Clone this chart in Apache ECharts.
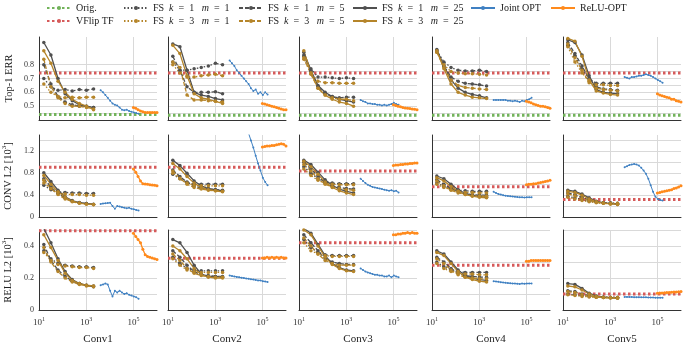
<!DOCTYPE html>
<html>
<head>
<meta charset="utf-8">
<script src="https://cdn.jsdelivr.net/npm/echarts@6/dist/echarts.min.js"></script>
<style>
html, body { margin: 0; padding: 0; background: #fff; }
#chart { width: 685px; height: 346px; }
</style>
</head>
<body>
<div id="chart"></div>
<script>
// x positions (shared by every panel)
const fsX = [16, 32, 64, 128, 256, 512, 1024, 2048];
const jointX = [4096, 5161, 6502, 8192, 10321, 13004, 16384, 20643, 26008, 32768, 41285, 52016, 65536, 82570, 104032, 131072, 165140];
const reluX = [1e5, 1.26e5, 1.58e5, 2e5, 2.51e5, 3.16e5, 3.98e5, 5.01e5, 6.31e5, 7.94e5, 1e6];
const lineX = [10, 1e6];
const layers = ["Conv1", "Conv2", "Conv3", "Conv4", "Conv5"];

// Top-1 ERR
const errOrig = [0.44, 0.435, 0.435, 0.435, 0.435];
const errVflip = [0.74, 0.74, 0.74, 0.74, 0.74];
const errK1M1 = [
    [0.70, 0.64, 0.615, 0.62, 0.61, 0.62, 0.615, 0.625],
    [0.82, 0.76, 0.76, 0.77, 0.78, 0.79, 0.81, 0.80],
    [0.86, 0.77, 0.71, 0.71, 0.705, 0.70, 0.705, 0.70],
    [0.90, 0.82, 0.78, 0.76, 0.755, 0.755, 0.76, 0.75],
    [0.94, 0.86, 0.77, 0.70, 0.665, 0.665, 0.665, 0.665]
];
const errK1M5 = [
    [0.80, 0.66, 0.57, 0.53, 0.51, 0.50, 0.50, 0.49],
    [0.86, 0.76, 0.64, 0.60, 0.60, 0.60, 0.605, 0.59],
    [0.87, 0.75, 0.64, 0.59, 0.57, 0.56, 0.565, 0.565],
    [0.90, 0.79, 0.71, 0.68, 0.665, 0.66, 0.655, 0.645],
    [0.96, 0.88, 0.79, 0.70, 0.64, 0.625, 0.62, 0.615]
];
const errK1M25 = [
    [0.96, 0.87, 0.70, 0.59, 0.54, 0.51, 0.50, 0.49],
    [0.95, 0.93, 0.76, 0.60, 0.58, 0.57, 0.555, 0.545],
    [0.89, 0.76, 0.65, 0.60, 0.57, 0.55, 0.54, 0.53],
    [0.91, 0.79, 0.69, 0.63, 0.60, 0.585, 0.575, 0.56],
    [0.98, 0.96, 0.87, 0.72, 0.62, 0.60, 0.595, 0.59]
];
const errK3M1 = [
    [0.66, 0.60, 0.57, 0.56, 0.565, 0.56, 0.565, 0.565],
    [0.80, 0.74, 0.71, 0.71, 0.72, 0.725, 0.73, 0.72],
    [0.84, 0.74, 0.68, 0.67, 0.67, 0.665, 0.665, 0.665],
    [0.89, 0.80, 0.75, 0.74, 0.735, 0.735, 0.73, 0.725],
    [0.93, 0.82, 0.74, 0.68, 0.655, 0.655, 0.65, 0.65]
];
const errK3M5 = [
    [0.84, 0.64, 0.56, 0.52, 0.50, 0.50, 0.49, 0.48],
    [0.82, 0.78, 0.58, 0.545, 0.545, 0.54, 0.535, 0.53],
    [0.85, 0.73, 0.63, 0.58, 0.56, 0.55, 0.55, 0.54],
    [0.89, 0.78, 0.69, 0.65, 0.635, 0.63, 0.625, 0.62],
    [0.95, 0.85, 0.76, 0.67, 0.63, 0.62, 0.615, 0.61]
];
const errK3M25 = [
    [0.90, 0.81, 0.68, 0.60, 0.55, 0.52, 0.50, 0.475],
    [0.94, 0.88, 0.72, 0.59, 0.56, 0.55, 0.535, 0.52],
    [0.90, 0.74, 0.63, 0.58, 0.55, 0.53, 0.52, 0.50],
    [0.90, 0.77, 0.66, 0.60, 0.58, 0.565, 0.56, 0.555],
    [0.99, 0.97, 0.86, 0.69, 0.61, 0.595, 0.585, 0.58]
];
const errJoint = [
    [0.615, 0.60, 0.58, 0.56, 0.54, 0.52, 0.51, 0.505, 0.49, 0.475, 0.47, 0.475, 0.465, 0.46, 0.455, 0.45, 0.445],
    [0.83, 0.81, 0.79, 0.76, 0.74, 0.72, 0.70, 0.68, 0.66, 0.63, 0.61, 0.62, 0.59, 0.60, 0.58, 0.60, 0.585],
    [0.545, 0.535, 0.53, 0.52, 0.52, 0.515, 0.515, 0.51, 0.51, 0.505, 0.51, 0.505, 0.51, 0.515, 0.525, 0.515, 0.51],
    [0.545, 0.545, 0.545, 0.545, 0.545, 0.545, 0.54, 0.54, 0.535, 0.54, 0.535, 0.53, 0.54, 0.535, 0.545, 0.55, 0.56],
    [0.71, 0.705, 0.70, 0.71, 0.71, 0.715, 0.72, 0.72, 0.725, 0.73, 0.725, 0.72, 0.71, 0.70, 0.69, 0.68, 0.67]
];
const errRelu = [
    [0.49, 0.485, 0.475, 0.465, 0.46, 0.455, 0.455, 0.455, 0.455, 0.455, 0.455],
    [0.52, 0.515, 0.51, 0.505, 0.50, 0.495, 0.49, 0.485, 0.48, 0.475, 0.475],
    [0.51, 0.505, 0.50, 0.495, 0.49, 0.487, 0.485, 0.483, 0.48, 0.478, 0.475],
    [0.535, 0.53, 0.525, 0.515, 0.51, 0.505, 0.50, 0.50, 0.495, 0.49, 0.485],
    [0.59, 0.58, 0.575, 0.57, 0.565, 0.56, 0.55, 0.55, 0.54, 0.535, 0.53]
];

// CONV L2 [10^3]
const convVflip = [0.91, 0.91, 0.84, 0.555, 0.32];
const convK1M1 = [
    [0.58, 0.50, 0.46, 0.45, 0.44, 0.44, 0.43, 0.43],
    [0.78, 0.70, 0.63, 0.60, 0.60, 0.60, 0.60, 0.60],
    [0.92, 0.80, 0.70, 0.64, 0.62, 0.61, 0.61, 0.61],
    [0.62, 0.56, 0.52, 0.49, 0.48, 0.47, 0.47, 0.47],
    [0.38, 0.35, 0.32, 0.29, 0.27, 0.26, 0.26, 0.25]
];
const convK1M5 = [
    [0.70, 0.55, 0.43, 0.35, 0.29, 0.26, 0.245, 0.235],
    [0.86, 0.74, 0.64, 0.57, 0.53, 0.51, 0.50, 0.49],
    [1.00, 0.88, 0.74, 0.63, 0.57, 0.54, 0.52, 0.51],
    [0.68, 0.60, 0.52, 0.46, 0.43, 0.41, 0.40, 0.40],
    [0.44, 0.41, 0.36, 0.31, 0.28, 0.26, 0.25, 0.24]
];
const convK1M25 = [
    [0.81, 0.65, 0.49, 0.37, 0.30, 0.265, 0.245, 0.23],
    [1.04, 0.94, 0.80, 0.66, 0.57, 0.52, 0.50, 0.48],
    [1.04, 0.96, 0.82, 0.68, 0.58, 0.51, 0.47, 0.44],
    [0.75, 0.70, 0.60, 0.50, 0.43, 0.40, 0.38, 0.36],
    [0.49, 0.47, 0.42, 0.35, 0.29, 0.26, 0.245, 0.235]
];
const convK3M1 = [
    [0.62, 0.52, 0.45, 0.42, 0.41, 0.41, 0.40, 0.40],
    [0.80, 0.70, 0.62, 0.58, 0.57, 0.57, 0.57, 0.57],
    [0.88, 0.76, 0.67, 0.62, 0.60, 0.59, 0.59, 0.59],
    [0.60, 0.54, 0.50, 0.47, 0.45, 0.45, 0.44, 0.44],
    [0.36, 0.33, 0.30, 0.28, 0.26, 0.25, 0.25, 0.25]
];
const convK3M5 = [
    [0.67, 0.52, 0.41, 0.33, 0.28, 0.25, 0.24, 0.23],
    [0.84, 0.71, 0.60, 0.54, 0.51, 0.49, 0.48, 0.47],
    [0.96, 0.84, 0.70, 0.60, 0.55, 0.52, 0.50, 0.49],
    [0.66, 0.57, 0.49, 0.44, 0.41, 0.39, 0.38, 0.38],
    [0.42, 0.39, 0.34, 0.30, 0.27, 0.25, 0.24, 0.23]
];
const convK3M25 = [
    [0.76, 0.60, 0.46, 0.36, 0.29, 0.255, 0.235, 0.225],
    [0.98, 0.88, 0.74, 0.62, 0.54, 0.50, 0.48, 0.46],
    [1.02, 0.92, 0.78, 0.64, 0.54, 0.48, 0.44, 0.41],
    [0.72, 0.66, 0.56, 0.47, 0.41, 0.38, 0.36, 0.35],
    [0.47, 0.45, 0.40, 0.33, 0.28, 0.255, 0.24, 0.23]
];
const convJoint = [
    [0.24, 0.245, 0.25, 0.255, 0.26, 0.20, 0.15, 0.20, 0.19, 0.18, 0.17, 0.16, 0.17, 0.15, 0.14, 0.13, 0.12],
    [2.4, 2.3, 2.2, 2.1, 2.0, 1.9, 1.8, 1.65, 1.53, 1.40, 1.27, 1.12, 0.98, 0.85, 0.72, 0.64, 0.58],
    [0.70, 0.66, 0.62, 0.59, 0.57, 0.55, 0.54, 0.53, 0.52, 0.51, 0.50, 0.49, 0.48, 0.49, 0.47, 0.48, 0.45],
    [0.46, 0.44, 0.42, 0.41, 0.40, 0.39, 0.385, 0.38, 0.375, 0.37, 0.365, 0.36, 0.36, 0.355, 0.36, 0.36, 0.36],
    [0.91, 0.93, 0.95, 0.96, 0.97, 0.96, 0.94, 0.90, 0.85, 0.79, 0.70, 0.58, 0.46, 0.37, 0.33, 0.31, 0.30]
];
const convRelu = [
    [0.88, 0.82, 0.74, 0.66, 0.61, 0.605, 0.60, 0.59, 0.585, 0.58, 0.57],
    [1.28, 1.29, 1.30, 1.30, 1.31, 1.31, 1.32, 1.33, 1.34, 1.33, 1.30],
    [0.94, 0.95, 0.95, 0.96, 0.96, 0.97, 0.97, 0.98, 0.98, 0.99, 0.99],
    [0.59, 0.60, 0.60, 0.61, 0.61, 0.62, 0.63, 0.64, 0.65, 0.66, 0.67],
    [0.44, 0.45, 0.46, 0.47, 0.48, 0.49, 0.50, 0.52, 0.53, 0.55, 0.57]
];

// RELU L2 [10^3]
const reluVflip = [0.495, 0.323, 0.42, 0.28, 0.10];
const reluK1M1 = [
    [0.37, 0.32, 0.29, 0.28, 0.275, 0.27, 0.27, 0.265],
    [0.33, 0.29, 0.26, 0.25, 0.245, 0.245, 0.245, 0.245],
    [0.44, 0.39, 0.36, 0.345, 0.34, 0.34, 0.34, 0.34],
    [0.30, 0.27, 0.25, 0.24, 0.235, 0.235, 0.235, 0.235],
    [0.10, 0.095, 0.09, 0.085, 0.082, 0.08, 0.08, 0.08]
];
const reluK1M5 = [
    [0.41, 0.31, 0.25, 0.21, 0.18, 0.165, 0.155, 0.15],
    [0.37, 0.33, 0.28, 0.24, 0.22, 0.215, 0.21, 0.21],
    [0.47, 0.42, 0.37, 0.32, 0.30, 0.29, 0.285, 0.285],
    [0.33, 0.30, 0.26, 0.23, 0.215, 0.21, 0.205, 0.205],
    [0.12, 0.115, 0.10, 0.09, 0.083, 0.08, 0.078, 0.077]
];
const reluK1M25 = [
    [0.51, 0.42, 0.32, 0.24, 0.19, 0.165, 0.155, 0.145],
    [0.44, 0.42, 0.36, 0.28, 0.225, 0.21, 0.21, 0.205],
    [0.51, 0.48, 0.41, 0.34, 0.29, 0.265, 0.25, 0.245],
    [0.37, 0.35, 0.30, 0.25, 0.215, 0.20, 0.19, 0.185],
    [0.165, 0.16, 0.135, 0.105, 0.088, 0.08, 0.077, 0.075]
];
const reluK3M1 = [
    [0.36, 0.31, 0.285, 0.275, 0.27, 0.265, 0.265, 0.26],
    [0.32, 0.28, 0.25, 0.24, 0.235, 0.235, 0.235, 0.235],
    [0.42, 0.37, 0.35, 0.34, 0.335, 0.335, 0.335, 0.335],
    [0.29, 0.26, 0.24, 0.23, 0.225, 0.225, 0.22, 0.22],
    [0.095, 0.09, 0.085, 0.082, 0.08, 0.078, 0.078, 0.078]
];
const reluK3M5 = [
    [0.39, 0.30, 0.24, 0.20, 0.175, 0.16, 0.15, 0.145],
    [0.35, 0.31, 0.26, 0.23, 0.215, 0.21, 0.205, 0.205],
    [0.45, 0.40, 0.35, 0.31, 0.29, 0.28, 0.28, 0.28],
    [0.32, 0.29, 0.25, 0.22, 0.205, 0.20, 0.195, 0.195],
    [0.115, 0.11, 0.097, 0.087, 0.08, 0.078, 0.076, 0.075]
];
const reluK3M25 = [
    [0.47, 0.39, 0.31, 0.23, 0.185, 0.165, 0.155, 0.15],
    [0.40, 0.37, 0.32, 0.26, 0.22, 0.205, 0.20, 0.20],
    [0.50, 0.47, 0.40, 0.33, 0.285, 0.26, 0.245, 0.24],
    [0.36, 0.34, 0.29, 0.24, 0.205, 0.19, 0.18, 0.175],
    [0.15, 0.145, 0.125, 0.10, 0.085, 0.078, 0.075, 0.073]
];
const reluJoint = [
    [0.155, 0.16, 0.165, 0.16, 0.12, 0.085, 0.12, 0.11, 0.12, 0.11, 0.10, 0.105, 0.095, 0.09, 0.085, 0.08, 0.07],
    [0.215, 0.212, 0.21, 0.207, 0.205, 0.202, 0.20, 0.197, 0.195, 0.192, 0.19, 0.188, 0.185, 0.185, 0.18, 0.178, 0.175],
    [0.26, 0.25, 0.24, 0.235, 0.23, 0.225, 0.22, 0.22, 0.215, 0.215, 0.21, 0.21, 0.215, 0.205, 0.215, 0.21, 0.205],
    [0.18, 0.178, 0.176, 0.174, 0.172, 0.17, 0.168, 0.167, 0.166, 0.165, 0.164, 0.163, 0.165, 0.164, 0.165, 0.166, 0.166],
    [0.082, 0.082, 0.081, 0.081, 0.08, 0.08, 0.08, 0.079, 0.079, 0.079, 0.078, 0.078, 0.078, 0.077, 0.077, 0.077, 0.077]
];
const reluRelu = [
    [0.48, 0.46, 0.44, 0.42, 0.38, 0.345, 0.335, 0.33, 0.325, 0.32, 0.315],
    [0.325, 0.325, 0.33, 0.325, 0.33, 0.325, 0.33, 0.325, 0.33, 0.325, 0.325],
    [0.47, 0.47, 0.475, 0.475, 0.48, 0.48, 0.485, 0.48, 0.485, 0.48, 0.48],
    [0.305, 0.305, 0.31, 0.31, 0.31, 0.31, 0.31, 0.31, 0.31, 0.31, 0.31],
    [0.105, 0.106, 0.107, 0.108, 0.109, 0.11, 0.111, 0.112, 0.113, 0.114, 0.115]
];

const FONT = "Liberation Serif";
const GRAY = "#505050";
const BROWN = "#b5852a";
const colLeft = [39, 168, 299, 432, 563];
const rowTop = [37, 135, 230];
const rowHeight = [83, 82, 82];

const rows = [
    {
        name: "Top-1 ERR", min: 0.4, max: 1.0, step: 0.05,
        lines: ["0.5", "0.6", "0.7", "0.8"],
        grid: ["none", "#d9d9d9", "#d9d9d9", "#d9d9d9", "#d9d9d9", "#d9d9d9", "#d9d9d9", "#d9d9d9", "#d9d9d9", "none", "none", "none", "none"],
        orig: errOrig, vflip: errVflip,
        fs: [errK1M1, errK1M5, errK1M25, errK3M1, errK3M5, errK3M25], joint: errJoint, relu: errRelu
    },
    {
        name: "{b|CONV L2 [10}{s|3}{b|]}", min: 0, max: 1.5, step: 0.2,
        lines: ["0", "0.4", "0.8", "1.2"],
        grid: ["none", "#d9d9d9", "#d9d9d9", "#d9d9d9", "#d9d9d9", "#d9d9d9", "#d9d9d9", "#d9d9d9", "none"],
        orig: null, vflip: convVflip,
        fs: [convK1M1, convK1M5, convK1M25, convK3M1, convK3M5, convK3M25], joint: convJoint, relu: convRelu
    },
    {
        name: "{b|RELU L2 [10}{s|3}{b|]}", min: 0, max: 0.5, step: 0.1,
        lines: ["0", "0.2", "0.4"],
        grid: ["none", "#d9d9d9", "#d9d9d9", "#d9d9d9", "#d9d9d9", "#d9d9d9"],
        orig: null, vflip: reluVflip,
        fs: [reluK1M1, reluK1M5, reluK1M25, reluK3M1, reluK3M5, reluK3M25], joint: reluJoint, relu: reluRelu
    }
];

const fsNames = ["FS k=1 m=1", "FS k=1 m=5", "FS k=1 m=25", "FS k=3 m=1", "FS k=3 m=5", "FS k=3 m=25"];
const fsColor = [GRAY, GRAY, GRAY, BROWN, BROWN, BROWN];
const fsType = [[1.5, 2], [4, 2], "solid", [1.5, 2], [4, 2], "solid"];

const supRich = {
    b: {fontFamily: FONT, fontSize: 10.5, color: "#222", lineHeight: 14},
    s: {fontFamily: FONT, fontSize: 7, color: "#222", verticalAlign: "top"}
};
const tickRich = {
    b: {fontFamily: FONT, fontSize: 9, color: "#333", lineHeight: 13},
    s: {fontFamily: FONT, fontSize: 6, color: "#333", verticalAlign: "top"}
};

function pairs(xs, ys) {
    return xs.map((x, i) => [x, ys[i]]);
}

let grids = [], xAxes = [], yAxes = [], series = [];

rows.forEach((row, r) => {
    layers.forEach((layer, c) => {
        const g = grids.length;
        grids.push({left: colLeft[c], top: rowTop[r], width: 118, height: rowHeight[r]});
        xAxes.push({
            type: "log", logBase: 10, min: 10, max: 1e6, gridIndex: g,
            axisLine: {show: true, lineStyle: {color: "#333", width: 1}},
            axisTick: {show: false},
            axisLabel: {
                show: r === 2, margin: 6, rich: tickRich,
                formatter: v => {
                    const e = Math.round(Math.log10(v));
                    return (e % 2 === 1 && e < 6) ? "{b|10}{s|" + e + "}" : "";
                }
            },
            splitLine: {show: true, lineStyle: {color: ["none", "none", "#d9d9d9", "none", "#d9d9d9", "none"], width: 1}},
            name: r === 2 ? layer : "", nameLocation: "middle", nameGap: 24,
            nameTextStyle: {fontFamily: FONT, fontSize: 11, color: "#222"}
        });
        yAxes.push({
            type: "value", min: row.min, max: row.max, interval: row.step, gridIndex: g,
            axisLine: {show: true, lineStyle: {color: "#333", width: 1}},
            axisTick: {show: false},
            axisLabel: {
                show: c === 0, fontFamily: FONT, fontSize: 8, color: "#333", margin: 5,
                formatter: v => {
                    const s = String(+v.toFixed(2));
                    return row.lines.indexOf(s) >= 0 ? s : "";
                }
            },
            splitLine: {show: true, lineStyle: {color: row.grid, width: 1}},
            name: c === 0 ? row.name : "", nameLocation: "middle", nameRotate: 90, nameGap: 24,
            nameTextStyle: {fontFamily: FONT, fontSize: 10.5, color: "#222", rich: supRich}
        });

        const base = {type: "line", xAxisIndex: g, yAxisIndex: g, animation: false};
        if (row.orig) {
            series.push(Object.assign({}, base, {
                name: "Orig.", data: pairs(lineX, [row.orig[c], row.orig[c]]), symbol: "none",
                color: "#72b35a", lineStyle: {width: 3, type: [2.5, 2.5]}
            }));
        }
        series.push(Object.assign({}, base, {
            name: "VFlip TF", data: pairs(lineX, [row.vflip[c], row.vflip[c]]), symbol: "none",
            color: "#d65a5a", lineStyle: {width: 3, type: [2.5, 2.5]}
        }));
        fsNames.forEach((n, k) => {
            series.push(Object.assign({}, base, {
                name: n, data: pairs(fsX, row.fs[k][c]), symbol: "circle", symbolSize: 3.5,
                color: fsColor[k], lineStyle: {width: 1.3, type: fsType[k]}
            }));
        });
        series.push(Object.assign({}, base, {
            name: "Joint OPT", data: pairs(jointX, row.joint[c]), symbol: "circle", symbolSize: 2,
            color: "#3f80c2", lineStyle: {width: 1}
        }));
        series.push(Object.assign({}, base, {
            name: "ReLU-OPT", data: pairs(reluX, row.relu[c]), symbol: "circle", symbolSize: 3,
            color: "#ff8a1c", lineStyle: {width: 1.3}
        }));
    });
});

const legendText = {
    fontFamily: FONT, fontSize: 10, color: "#222",
    rich: {i: {fontFamily: FONT, fontSize: 10, fontStyle: "italic", color: "#222"}}
};
function legendLabel(n) {
    const m = n.match(/^FS k=(\d) m=(\d+)$/);
    return m ? "FS  {i|k}  =  " + m[1] + "   {i|m}  =  " + m[2] : n;
}
const legendCols = [
    [46, ["Orig.", "VFlip TF"]],
    [123, ["FS k=1 m=1", "FS k=3 m=1"]],
    [238, ["FS k=1 m=5", "FS k=3 m=5"]],
    [352, ["FS k=1 m=25", "FS k=3 m=25"]],
    [470, ["Joint OPT"]],
    [550, ["ReLU-OPT"]]
];
const legends = legendCols.map(([left, data]) => ({
    left: left, top: 3, orient: "vertical", data: data, padding: 0,
    itemWidth: 24, itemHeight: 5, itemGap: 3,
    textStyle: legendText, formatter: legendLabel, selectedMode: false
}));

const chart = echarts.init(document.getElementById("chart"));
chart.setOption({
    animation: false,
    backgroundColor: "#fff",
    legend: legends,
    grid: grids,
    xAxis: xAxes,
    yAxis: yAxes,
    series: series
});
</script>
</body>
</html>
